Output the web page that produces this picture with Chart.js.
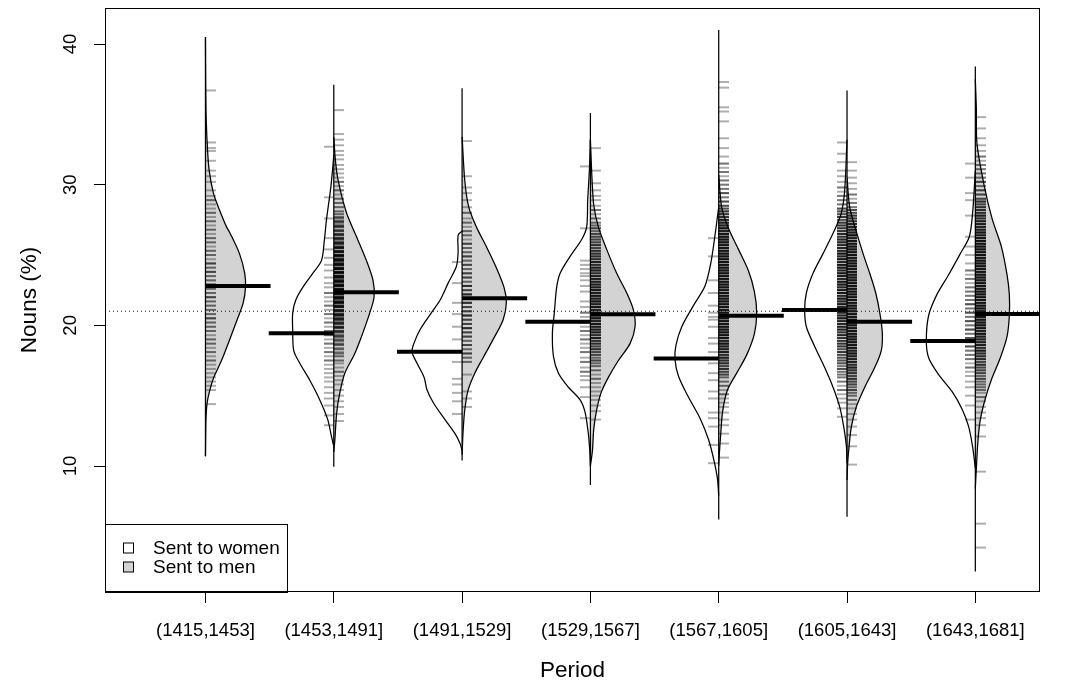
<!DOCTYPE html>
<html>
<head>
<meta charset="utf-8">
<script src="https://cdn.jsdelivr.net/npm/chart.js@4.4.0/dist/chart.umd.min.js"></script>
<style>
  html, body { margin: 0; padding: 0; background: #fff; }
</style>
</head>
<body>
<canvas id="beanChart" width="1067" height="686"></canvas>
<script>
const periods = ["(1415,1453]", "(1453,1491]", "(1491,1529]", "(1529,1567]", "(1567,1605]", "(1605,1643]", "(1643,1681]"];
const yTicks = [10, 20, 30, 40];
const overallMean = 21.0;

// medians per period (women / men)
const womenMedian = [null, 19.43, 18.13, 20.26, 17.65, 21.09, 18.89];
const menMedian = [22.8, 22.35, 21.92, 20.78, 20.69, 20.26, 20.8];

// extent of the thin centre line of each bean
const beanMin = [10.7, 9.95, 10.4, 8.65, 6.2, 6.4, 2.5];
const beanMax = [40.5, 37.1, 36.85, 35.1, 41.0, 36.7, 38.4];

// density outline: [value, half width in category units]
const womenDensity = [
  null,
  [[11.4,0],[12.1,.018],[13.3,.047],[14.7,.109],[16.1,.187],[17.3,.265],[18.2,.312],[19.5,.32],[20.9,.32],[21.8,.296],[22.7,.242],[23.7,.164],[24.6,.096],[26.0,.074],[27.5,.057],[29.6,.026],[31.0,.01],[32.1,0]],
  [[11.1,0],[11.6,.016],[12.3,.055],[13.3,.133],[14.5,.224],[15.4,.273],[16.3,.296],[17.3,.351],[18.1,.39],[18.7,.376],[19.7,.327],[20.9,.239],[21.8,.171],[23.0,.109],[24.2,.044],[25.2,.031],[26.4,.031],[26.7,0]],
  [[10.0,0],[11.1,.005],[12.3,.016],[13.8,.041],[14.7,.08],[15.6,.171],[16.6,.249],[17.8,.288],[19.5,.296],[20.9,.281],[22.7,.263],[23.7,.236],[24.9,.158],[26.1,.068],[27.0,.029],[28.9,.021],[31.0,.008],[33.2,0]],
  [[7.9,0],[9.1,.01],[10.4,.037],[11.9,.08],[13.4,.146],[14.9,.236],[16.4,.314],[17.6,.341],[18.6,.333],[19.9,.288],[21.4,.197],[22.8,.107],[24.4,.062],[26.4,.029],[28.4,0]],
  [[10.2,0],[11.4,.005],[12.8,.026],[14.2,.057],[15.6,.109],[17.0,.174],[18.5,.252],[19.9,.317],[21.1,.33],[22.3,.317],[23.7,.265],[25.1,.187],[26.8,.096],[28.0,.044],[29.6,.018],[33.2,0]],
  [[9.85,0],[11.35,.021],[12.8,.052],[14.05,.104],[15.3,.182],[16.5,.286],[17.7,.364],[18.9,.382],[20.7,.364],[22.2,.299],[23.6,.208],[25.1,.117],[26.3,.047],[28.0,.021],[31.0,0]]
];
const menDensity = [
  [[10.7,0],[13.3,.004],[14.5,.013],[15.4,.034],[16.3,.065],[17.5,.125],[19.0,.189],[20.4,.247],[21.6,.294],[22.7,.312],[23.7,.306],[25.1,.265],[26.6,.189],[27.0,.164],[28.4,.101],[29.4,.062],[31.0,.029],[32.5,.016],[34.6,.006],[37.0,.002],[40.5,0]],
  [[11.0,0],[11.8,.008],[13.8,.023],[15.2,.047],[16.6,.086],[18.0,.164],[19.5,.228],[20.9,.281],[22.0,.314],[23.2,.306],[24.6,.255],[26.3,.177],[28.0,.099],[30.3,.034],[31.8,.012],[33.4,0]],
  [[10.8,0],[12.5,.008],[14.0,.021],[15.4,.047],[16.6,.099],[17.7,.164],[19.0,.242],[20.4,.32],[21.6,.345],[22.7,.327],[24.1,.267],[25.6,.189],[27.0,.111],[28.4,.052],[30.3,.021],[33.4,0]],
  [[10.0,0],[11.1,.016],[12.6,.026],[14.0,.049],[15.2,.083],[16.3,.14],[17.5,.218],[18.7,.309],[19.9,.348],[21.1,.335],[22.3,.283],[23.7,.205],[25.4,.127],[27.0,.062],[28.5,.027],[30.5,.012],[33.2,0]],
  [[10.0,0],[10.9,.005],[12.3,.016],[13.9,.031],[15.4,.068],[16.6,.14],[17.9,.218],[19.4,.278],[20.9,.296],[22.4,.278],[23.9,.231],[25.4,.154],[26.9,.076],[28.4,.023],[30.7,0]],
  [[9.0,0],[10.2,.005],[11.4,.016],[12.8,.034],[14.2,.072],[15.6,.138],[17.0,.216],[18.2,.267],[19.5,.275],[20.9,.255],[22.3,.224],[23.7,.177],[25.1,.125],[26.8,.068],[28.4,.021],[30.5,0]],
  [[8.4,0],[9.85,.008],[11.85,.021],[13.3,.039],[14.8,.078],[16.25,.13],[17.7,.195],[19.2,.247],[20.7,.265],[22.2,.265],[23.6,.247],[25.6,.203],[27.6,.13],[29.8,.072],[32.9,.013],[35.4,.008],[37.5,0]]
];

// rug marks: [value, number of marks at that value]
const womenRug = [
  [],
  [[32.7,1],[29.1,1],[27.6,1],[26.2,1],[25.4,1],[24.8,1],[24.3,1],[23.9,1],[23.4,1],[23.0,1],[22.7,1],[22.3,2],[22.0,1],[21.7,1],[21.4,2],[21.1,1],[20.8,2],[20.5,1],[20.2,2],[19.9,1],[19.6,2],[19.3,2],[19.0,1],[18.7,2],[18.4,1],[18.1,2],[17.8,1],[17.5,2],[17.2,1],[16.9,1],[16.6,1],[16.3,1],[16.0,1],[15.6,1],[15.2,1],[14.8,1],[14.3,1],[13.6,1],[12.9,1]],
  [[24.5,1],[23.0,1],[21.6,1],[20.8,1],[19.9,1],[19.0,1],[18.1,1],[17.4,1],[16.2,1],[15.8,1],[15.2,1],[14.6,1],[13.7,1]],
  [[31.3,1],[26.9,1],[24.6,1],[24.3,1],[24.0,1],[23.7,1],[23.5,1],[23.2,1],[22.8,1],[22.4,1],[21.7,1],[21.3,1],[20.9,2],[20.6,1],[20.2,2],[19.9,1],[19.6,2],[19.3,1],[19.0,2],[18.7,1],[18.4,1],[18.1,2],[17.7,1],[17.4,2],[17.0,1],[16.7,2],[16.4,1],[16.1,1],[15.6,1],[14.9,1],[13.4,1]],
  [[26.2,1],[24.9,1],[23.2,1],[22.3,1],[21.4,1],[20.9,1],[20.6,1],[20.4,1],[19.9,1],[19.1,1],[18.7,1],[18.1,1],[17.3,1],[16.6,1],[16.1,1],[15.3,1],[14.8,1],[13.8,1],[13.4,1],[12.8,1],[11.5,1],[10.2,1]],
  [[33.0,1],[32.2,1],[31.6,1],[31.0,1],[30.6,1],[30.2,1],[29.8,2],[29.5,1],[29.2,2],[28.9,2],[28.6,2],[28.3,3],[28.1,3],[27.9,3],[27.7,4],[27.5,3],[27.3,4],[27.1,4],[26.9,4],[26.7,4],[26.5,5],[26.3,4],[26.1,5],[25.9,5],[25.7,5],[25.5,5],[25.3,5],[25.1,6],[24.9,5],[24.7,6],[24.5,5],[24.3,6],[24.1,6],[23.9,5],[23.7,6],[23.5,6],[23.3,5],[23.1,6],[22.9,6],[22.7,5],[22.5,6],[22.3,6],[22.1,5],[21.9,6],[21.7,5],[21.5,6],[21.3,5],[21.1,6],[20.9,5],[20.7,5],[20.5,6],[20.3,5],[20.1,5],[19.9,5],[19.7,5],[19.5,4],[19.3,5],[19.1,4],[18.9,4],[18.7,4],[18.5,4],[18.3,3],[18.1,4],[17.9,3],[17.7,3],[17.5,3],[17.3,3],[17.1,2],[16.9,3],[16.7,2],[16.5,2],[16.3,2],[16.0,2],[15.7,1],[15.4,2],[15.1,1],[14.8,1],[14.5,1],[14.1,1],[13.5,1]],
  [[31.5,1],[30.5,1],[29.4,1],[28.9,1],[27.8,1],[26.3,1],[25.6,1],[25.0,1],[24.4,1],[23.9,2],[23.6,1],[23.3,2],[23.0,1],[22.7,2],[22.4,2],[22.1,2],[21.8,2],[21.5,3],[21.2,2],[20.9,3],[20.6,2],[20.3,3],[20.0,2],[19.7,3],[19.4,2],[19.1,3],[18.8,2],[18.5,3],[18.2,2],[17.9,2],[17.6,2],[17.3,1],[17.0,2],[16.7,1],[16.4,1],[16.0,1],[15.6,1],[15.0,1],[14.3,1],[13.3,1]]
];
const menRug = [
  [[36.7,1],[33.0,1],[32.6,1],[32.4,1],[31.7,1],[31.0,1],[30.6,1],[30.2,1],[29.6,1],[29.2,1],[28.9,2],[28.6,1],[28.3,1],[28.0,2],[27.7,1],[27.4,2],[27.1,1],[26.8,2],[26.5,1],[26.2,2],[25.9,2],[25.6,1],[25.3,2],[25.0,2],[24.7,1],[24.4,3],[24.1,2],[23.8,3],[23.5,2],[23.2,2],[22.9,3],[22.6,2],[22.3,2],[22.0,3],[21.7,2],[21.4,2],[21.1,2],[20.8,2],[20.5,3],[20.2,2],[19.9,2],[19.6,2],[19.3,1],[19.0,2],[18.7,2],[18.4,1],[18.1,2],[17.8,1],[17.5,2],[17.2,1],[16.9,1],[16.6,1],[16.3,1],[16.0,1],[15.7,1],[15.4,1],[14.4,1]],
  [[35.3,1],[33.6,1],[33.2,1],[32.8,1],[32.4,1],[32.1,1],[31.8,1],[31.4,1],[31.1,1],[30.8,1],[30.5,1],[30.2,2],[29.9,1],[29.6,2],[29.3,1],[29.0,2],[28.7,2],[28.4,2],[28.1,2],[27.9,2],[27.7,2],[27.6,2],[27.4,3],[27.3,2],[27.1,3],[27.0,3],[26.8,2],[26.7,3],[26.5,3],[26.4,3],[26.2,4],[26.1,3],[25.9,4],[25.8,4],[25.6,4],[25.5,5],[25.3,4],[25.2,5],[25.0,5],[24.9,5],[24.7,5],[24.6,6],[24.4,5],[24.3,6],[24.1,5],[24.0,6],[23.8,6],[23.7,5],[23.5,6],[23.4,6],[23.2,5],[23.1,6],[22.9,5],[22.8,6],[22.6,6],[22.5,5],[22.3,6],[22.2,5],[22.0,6],[21.9,5],[21.7,5],[21.6,6],[21.4,5],[21.3,5],[21.1,4],[21.0,5],[20.8,4],[20.7,5],[20.5,4],[20.4,4],[20.2,4],[20.1,3],[19.9,4],[19.8,3],[19.6,3],[19.5,3],[19.3,2],[19.2,3],[19.0,2],[18.9,2],[18.7,2],[18.6,2],[18.4,1],[18.3,2],[18.1,1],[18.0,2],[17.8,2],[17.5,2],[17.3,1],[17.0,1],[16.7,2],[16.4,1],[16.1,1],[15.8,1],[15.4,1],[15.0,1],[14.6,1],[14.2,1],[13.7,1],[13.2,1]],
  [[33.1,1],[30.6,1],[29.8,1],[29.4,1],[28.9,1],[28.4,1],[28.0,2],[27.6,1],[27.3,2],[27.0,1],[26.7,2],[26.4,2],[26.1,1],[25.8,3],[25.5,2],[25.2,2],[24.9,3],[24.6,2],[24.3,3],[24.0,2],[23.7,3],[23.4,3],[23.1,2],[22.8,4],[22.5,3],[22.2,4],[21.9,3],[21.6,4],[21.3,3],[21.0,3],[20.7,4],[20.4,3],[20.1,3],[19.8,4],[19.5,3],[19.2,3],[18.9,2],[18.6,3],[18.3,2],[18.0,3],[17.7,2],[17.4,2],[16.5,1],[15.3,1],[14.8,1],[14.2,1]],
  [[32.6,1],[31.0,1],[30.1,1],[29.6,1],[29.2,1],[28.9,1],[28.5,1],[28.2,2],[27.9,1],[27.6,2],[27.3,2],[27.1,2],[26.9,3],[26.7,2],[26.5,3],[26.3,3],[26.1,3],[25.9,3],[25.7,4],[25.5,3],[25.3,4],[25.1,4],[24.9,4],[24.7,4],[24.5,5],[24.3,4],[24.1,5],[23.9,5],[23.7,4],[23.5,5],[23.3,5],[23.1,5],[22.9,5],[22.7,5],[22.5,6],[22.3,5],[22.1,6],[21.9,5],[21.7,6],[21.5,5],[21.3,6],[21.1,5],[20.9,6],[20.7,5],[20.5,6],[20.3,5],[20.1,6],[19.9,5],[19.7,5],[19.5,5],[19.3,4],[19.1,5],[18.9,4],[18.7,4],[18.5,3],[18.3,4],[18.1,3],[17.9,3],[17.7,2],[17.5,3],[17.3,2],[17.1,2],[16.8,2],[16.5,1],[16.2,2],[15.9,1],[15.6,1],[15.3,1],[15.0,1],[14.7,1],[14.3,1],[13.9,1],[13.3,1]],
  [[37.3,1],[36.9,1],[35.5,1],[35.2,1],[34.5,1],[33.3,1],[32.6,1],[32.0,1],[31.5,2],[31.2,1],[30.9,2],[30.6,1],[30.3,2],[30.0,2],[29.7,2],[29.4,3],[29.1,2],[28.8,3],[28.5,3],[28.3,3],[28.1,4],[27.9,4],[27.7,4],[27.5,5],[27.3,5],[27.1,5],[26.9,6],[26.7,5],[26.5,6],[26.3,6],[26.1,6],[25.9,6],[25.7,6],[25.5,6],[25.3,6],[25.1,6],[24.9,6],[24.7,6],[24.5,6],[24.3,6],[24.1,6],[23.9,6],[23.7,6],[23.5,6],[23.3,6],[23.1,6],[22.9,6],[22.7,6],[22.5,6],[22.3,6],[22.1,6],[21.9,6],[21.7,6],[21.5,6],[21.3,6],[21.1,6],[20.9,6],[20.7,6],[20.5,6],[20.3,6],[20.1,6],[19.9,6],[19.7,6],[19.5,6],[19.3,6],[19.1,6],[18.9,5],[18.7,6],[18.5,5],[18.3,5],[18.1,5],[17.9,4],[17.7,5],[17.5,4],[17.3,4],[17.1,3],[16.9,4],[16.7,3],[16.5,3],[16.3,2],[16.0,2],[15.7,2],[15.4,1],[15.1,2],[14.8,1],[14.5,1],[14.2,1],[13.8,1],[13.3,1],[12.9,1],[12.3,1],[11.6,1],[10.6,1]],
  [[31.6,1],[31.0,1],[30.5,1],[30.1,1],[29.7,1],[29.3,2],[29.0,1],[28.7,2],[28.4,2],[28.2,3],[28.0,3],[27.8,4],[27.6,4],[27.4,4],[27.2,5],[27.0,5],[26.8,5],[26.6,5],[26.4,6],[26.2,5],[26.0,6],[25.8,6],[25.6,6],[25.4,6],[25.2,6],[25.0,6],[24.8,6],[24.6,6],[24.4,6],[24.2,6],[24.0,6],[23.8,6],[23.6,6],[23.4,6],[23.2,6],[23.0,6],[22.8,6],[22.6,6],[22.4,6],[22.2,6],[22.0,6],[21.8,6],[21.6,6],[21.4,6],[21.2,6],[21.0,6],[20.8,6],[20.6,6],[20.4,6],[20.2,6],[20.0,6],[19.8,6],[19.6,6],[19.4,6],[19.2,6],[19.0,6],[18.8,6],[18.6,6],[18.4,6],[18.2,5],[18.0,6],[17.8,5],[17.6,5],[17.4,5],[17.2,4],[17.0,5],[16.8,4],[16.6,4],[16.4,3],[16.2,4],[16.0,3],[15.8,3],[15.6,2],[15.4,3],[15.2,2],[15.0,2],[14.7,2],[14.4,1],[14.1,1],[13.7,1],[13.3,1],[12.8,1],[12.2,1],[11.4,1],[10.1,1]],
  [[34.8,1],[34.0,1],[33.3,1],[32.8,1],[32.4,1],[32.0,2],[31.7,1],[31.4,2],[31.1,2],[30.8,2],[30.5,2],[30.2,3],[29.9,2],[29.6,3],[29.3,3],[29.0,3],[28.8,4],[28.6,3],[28.4,4],[28.2,4],[28.0,4],[27.8,5],[27.6,4],[27.4,5],[27.2,5],[27.0,5],[26.8,5],[26.6,6],[26.4,5],[26.2,6],[26.0,6],[25.8,6],[25.6,6],[25.4,6],[25.2,6],[25.0,6],[24.8,6],[24.6,6],[24.4,6],[24.2,6],[24.0,6],[23.8,6],[23.6,6],[23.4,6],[23.2,6],[23.0,6],[22.8,6],[22.6,6],[22.4,6],[22.2,6],[22.0,6],[21.8,6],[21.6,6],[21.4,6],[21.2,6],[21.0,6],[20.8,6],[20.6,6],[20.4,6],[20.2,6],[20.0,6],[19.8,6],[19.6,5],[19.4,6],[19.2,5],[19.0,5],[18.8,5],[18.6,5],[18.4,4],[18.2,5],[18.0,4],[17.8,4],[17.6,4],[17.4,3],[17.2,4],[17.0,3],[16.8,3],[16.6,3],[16.4,2],[16.2,3],[16.0,2],[15.8,2],[15.6,2],[15.4,2],[15.2,1],[14.9,2],[14.6,1],[14.2,1],[13.8,1],[13.4,1],[12.9,1],[12.1,1],[9.6,1],[5.9,1],[4.2,1]]
];

const X_MIN = 0.217, X_MAX = 7.504;
const Y_MIN = 1.043, Y_MAX = 42.56;
const MEDIAN_LEN = 0.507;
const RUG_LEN = 0.08;
const FONT = '"Liberation Sans", Arial, Helvetica, sans-serif';
const WOMEN_FILL = "#ffffff";
const MEN_FILL = "#d3d3d3";

function outline(dens, centre, dir) {
  return dens.map(([v, w]) => ({ x: centre + dir * w, y: v }));
}

const datasets = [];
periods.forEach((p, i) => {
  const c = i + 1;
  if (womenDensity[i]) {
    datasets.push({
      role: "bean", data: outline(womenDensity[i], c, -1), showLine: true, fill: "shape",
      backgroundColor: WOMEN_FILL, borderColor: "#000", borderWidth: 1.25, pointRadius: 0, tension: 0.3, order: 10
    });
  }
  datasets.push({
    role: "bean", data: outline(menDensity[i], c, 1), showLine: true, fill: "shape",
    backgroundColor: MEN_FILL, borderColor: "#000", borderWidth: 1.25, pointRadius: 0, tension: 0.3, order: 10
  });
  datasets.push({
    role: "centre", data: [{ x: c, y: beanMin[i] }, { x: c, y: beanMax[i] }], showLine: true,
    borderColor: "#000", borderWidth: 1.25, pointRadius: 0, order: 9
  });
  if (womenMedian[i] !== null) {
    datasets.push({
      role: "median", data: [{ x: c - MEDIAN_LEN, y: womenMedian[i] }, { x: c, y: womenMedian[i] }], showLine: true,
      borderColor: "#000", borderWidth: 4, pointRadius: 0, order: 5
    });
  }
  datasets.push({
    role: "median", data: [{ x: c, y: menMedian[i] }, { x: c + MEDIAN_LEN, y: menMedian[i] }], showLine: true,
    borderColor: "#000", borderWidth: 4, pointRadius: 0, order: 5
  });
});
datasets.push({
  role: "overall", data: [{ x: X_MIN, y: overallMean }, { x: X_MAX, y: overallMean }], showLine: true,
  borderColor: "#222", borderWidth: 1, borderDash: [1, 3], pointRadius: 0, order: 1
});

function drawRugs(chart) {
  const { ctx, chartArea, scales: { x, y } } = chart;
  ctx.save();
  ctx.beginPath();
  ctx.rect(chartArea.left, chartArea.top, chartArea.width, chartArea.height);
  ctx.clip();
  ctx.strokeStyle = "rgba(0,0,0,0.32)";
  ctx.lineWidth = 2;
  const side = (rugs, dir) => rugs.forEach((marks, i) => {
    const c = i + 1;
    const xa = Math.round(x.getPixelForValue(c));
    const xb = Math.round(x.getPixelForValue(c + dir * RUG_LEN));
    marks.forEach(([v, n]) => {
      const py = y.getPixelForValue(v);
      for (let k = 0; k < n; k++) {
        ctx.beginPath();
        ctx.moveTo(xa, py);
        ctx.lineTo(xb, py);
        ctx.stroke();
      }
    });
  });
  side(womenRug, -1);
  side(menRug, 1);
  ctx.restore();
}

const beanExtras = {
  id: "beanExtras",
  beforeDatasetsDraw(chart) { chart.$rugDone = false; },
  beforeDatasetDraw(chart, args) {
    const ds = chart.data.datasets[args.index];
    if (ds.role === "median" && !chart.$rugDone) {
      drawRugs(chart);
      chart.$rugDone = true;
    }
  },
  afterDraw(chart) {
    const { ctx, chartArea: a, scales: { x, y } } = chart;
    ctx.save();
    // frame
    ctx.strokeStyle = "#000";
    ctx.lineWidth = 1;
    ctx.strokeRect(a.left + 0.5, a.top + 0.5, a.width - 1, a.height - 1);

    ctx.fillStyle = "#000";
    // x tick labels
    ctx.font = "18.5px " + FONT;
    ctx.textAlign = "center";
    ctx.textBaseline = "alphabetic";
    periods.forEach((p, i) => ctx.fillText(p, x.getPixelForValue(i + 1), 636));
    // y tick labels, rotated as in R
    yTicks.forEach(v => {
      ctx.save();
      ctx.translate(76, y.getPixelForValue(v));
      ctx.rotate(-Math.PI / 2);
      ctx.fillText(String(v), 0, 0);
      ctx.restore();
    });
    // axis titles
    ctx.font = "22.5px " + FONT;
    ctx.fillText("Period", (a.left + a.right) / 2, 677);
    ctx.save();
    ctx.translate(36, (a.top + a.bottom) / 2);
    ctx.rotate(-Math.PI / 2);
    ctx.fillText("Nouns (%)", 0, 0);
    ctx.restore();

    // legend
    const lx = a.left, lw = 182, lh = 68, ly = a.bottom - lh;
    ctx.fillStyle = "#fff";
    ctx.fillRect(lx + 1, ly + 1, lw - 1, lh - 2);
    ctx.strokeRect(lx + 0.5, ly + 0.5, lw, lh);
    const items = [["Sent to women", WOMEN_FILL], ["Sent to men", MEN_FILL]];
    ctx.font = "19px " + FONT;
    ctx.textAlign = "left";
    ctx.textBaseline = "middle";
    items.forEach(([label, col], k) => {
      const cy = ly + 24 + k * 19;
      ctx.fillStyle = col;
      ctx.fillRect(lx + 18.5, cy - 5, 10, 10);
      ctx.strokeRect(lx + 18.5, cy - 5, 10, 10);
      ctx.fillStyle = "#000";
      ctx.fillText(label, lx + 48, cy + 1);
    });
    ctx.restore();
  }
};

new Chart(document.getElementById("beanChart"), {
  type: "scatter",
  data: { datasets },
  options: {
    responsive: false,
    animation: false,
    devicePixelRatio: 1,
    layout: { padding: { top: 8, right: 27, left: 0, bottom: 0 } },
    plugins: { legend: { display: false }, tooltip: { enabled: false } },
    scales: {
      x: {
        type: "linear", min: X_MIN, max: X_MAX,
        afterBuildTicks: s => { s.ticks = periods.map((p, i) => ({ value: i + 1 })); },
        afterFit: s => { s.height = 94; },
        ticks: { display: false },
        grid: { drawOnChartArea: false, drawTicks: true, tickLength: 11, color: "#000", lineWidth: 1 },
        border: { display: false }
      },
      y: {
        type: "linear", min: Y_MIN, max: Y_MAX,
        afterBuildTicks: s => { s.ticks = yTicks.map(v => ({ value: v })); },
        afterFit: s => { s.width = 105; },
        ticks: { display: false },
        grid: { drawOnChartArea: false, drawTicks: true, tickLength: 11, color: "#000", lineWidth: 1 },
        border: { display: false }
      }
    }
  },
  plugins: [beanExtras]
});
</script>
</body>
</html>
